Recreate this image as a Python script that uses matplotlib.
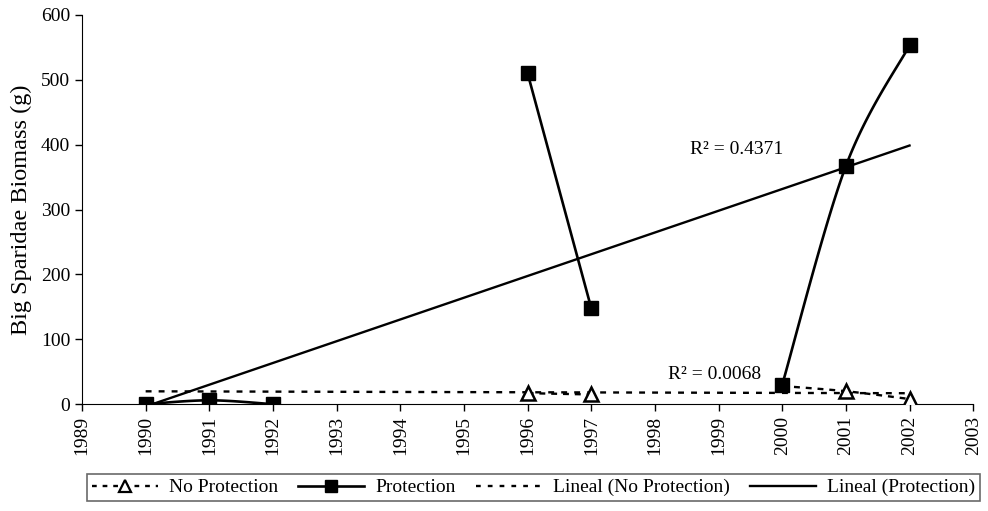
import numpy as np
import matplotlib
matplotlib.use("Agg")
import matplotlib.pyplot as plt
from matplotlib.lines import Line2D

plt.rcParams['font.family'] = ['Liberation Serif', 'DejaVu Serif']

# Protection series, split where the original line has gaps
prot_years = [[1990, 1991, 1992], [1996, 1997], [2000, 2001, 2002]]
prot_vals = [[0, 6, 0], [510, 148], [30, 367, 553]]

# No protection series
noprot_years = [[1996, 1997], [2000, 2001, 2002]]
noprot_vals = [[17, 15], [28, 20, 8]]
noprot_marker_years = [1996, 1997, 2001, 2002]
noprot_marker_vals = [17, 15, 20, 8]

r2_prot = "R² = 0.4371"
r2_noprot = "R² = 0.0068"


def smooth(xs, ys, n=40):
    """Excel-like smoothed line (cubic Bezier, Catmull-Rom tangents)."""
    xs = np.asarray(xs, float)
    ys = np.asarray(ys, float)
    if len(xs) < 3:
        return xs, ys
    px, py = [], []
    m = len(xs)
    for i in range(m - 1):
        i0 = max(i - 1, 0)
        i3 = min(i + 2, m - 1)
        c1x = xs[i] + (xs[i + 1] - xs[i0]) / 6
        c1y = ys[i] + (ys[i + 1] - ys[i0]) / 6
        c2x = xs[i + 1] - (xs[i3] - xs[i]) / 6
        c2y = ys[i + 1] - (ys[i3] - ys[i]) / 6
        t = np.linspace(0, 1, n)
        bx = (1-t)**3*xs[i] + 3*(1-t)**2*t*c1x + 3*(1-t)*t**2*c2x + t**3*xs[i+1]
        by = (1-t)**3*ys[i] + 3*(1-t)**2*t*c1y + 3*(1-t)*t**2*c2y + t**3*ys[i+1]
        px.extend(bx)
        py.extend(by)
    return np.array(px), np.array(py)


fig = plt.figure(figsize=(9.88, 5.11), dpi=100)
ax = fig.add_axes([0.083, 0.209, 0.902, 0.762])

# trend lines
all_px = np.concatenate([np.array(v, float) for v in prot_years])
all_py = np.concatenate([np.array(v, float) for v in prot_vals])
k, b = np.polyfit(all_px, all_py, 1)
tx = np.array([1990, 2002])
ax.plot(tx, k * tx + b, color='black', lw=1.7, zorder=2)

all_nx = np.concatenate([np.array(v, float) for v in noprot_years])
all_ny = np.concatenate([np.array(v, float) for v in noprot_vals])
k2, b2 = np.polyfit(all_nx, all_ny, 1)
ax.plot(tx, k2 * tx + b2, color='black', lw=1.7, ls=(0, (2.5, 3)), zorder=2)

# no protection
for xs, ys in zip(noprot_years, noprot_vals):
    sx, sy = smooth(xs, ys)
    ax.plot(sx, sy, color='black', lw=1.7, ls=(0, (2.5, 2.5)), zorder=3)
ax.plot(noprot_marker_years, noprot_marker_vals, ls='none', marker='^',
        ms=10, mfc='white', mec='black', mew=1.8, zorder=4)

# protection
for xs, ys in zip(prot_years, prot_vals):
    sx, sy = smooth(xs, ys)
    ax.plot(sx, sy, color='black', lw=1.9, zorder=3)
    ax.plot(xs, ys, ls='none', marker='s', ms=10, color='black', zorder=5)

ax.text(1998.55, 392, r2_prot, fontsize=14, ha='left', va='center',
        bbox=dict(facecolor='white', edgecolor='none', pad=0.5))
ax.text(1998.2, 45, r2_noprot, fontsize=14, ha='left', va='center',
        bbox=dict(facecolor='white', edgecolor='none', pad=0.5))

ax.set_xlim(1989, 2003)
ax.set_ylim(0, 600)
ax.set_xticks(range(1989, 2004))
ax.set_xticklabels([str(y) for y in range(1989, 2004)], rotation=90)
ax.set_yticks(range(0, 601, 100))
ax.tick_params(labelsize=14, direction='out', length=5, width=1)
ax.spines['top'].set_visible(False)
ax.spines['right'].set_visible(False)
ax.set_ylabel('Big Sparidae Biomass (g)', fontsize=17.5, labelpad=6)

handles = [
    Line2D([], [], color='black', lw=1.7, ls=(0, (2, 2.5)), marker='^',
           ms=9, mfc='white', mec='black', mew=1.6),
    Line2D([], [], color='black', lw=1.9, marker='s', ms=9),
    Line2D([], [], color='black', lw=1.7, ls=(0, (2, 3))),
    Line2D([], [], color='black', lw=1.7),
]
labels = ['No Protection', 'Protection', 'Lineal (No Protection)', 'Lineal (Protection)']
leg = fig.legend(handles, labels, loc='lower left', ncol=4,
                 bbox_to_anchor=(0.078, 0.0), fontsize=14,
                 frameon=True, fancybox=False, edgecolor='#444444',
                 handlelength=3.4, handletextpad=0.6, borderpad=0.25,
                 columnspacing=1.0)
leg.get_frame().set_linewidth(1.2)

fig.savefig('out.png', dpi=100)
